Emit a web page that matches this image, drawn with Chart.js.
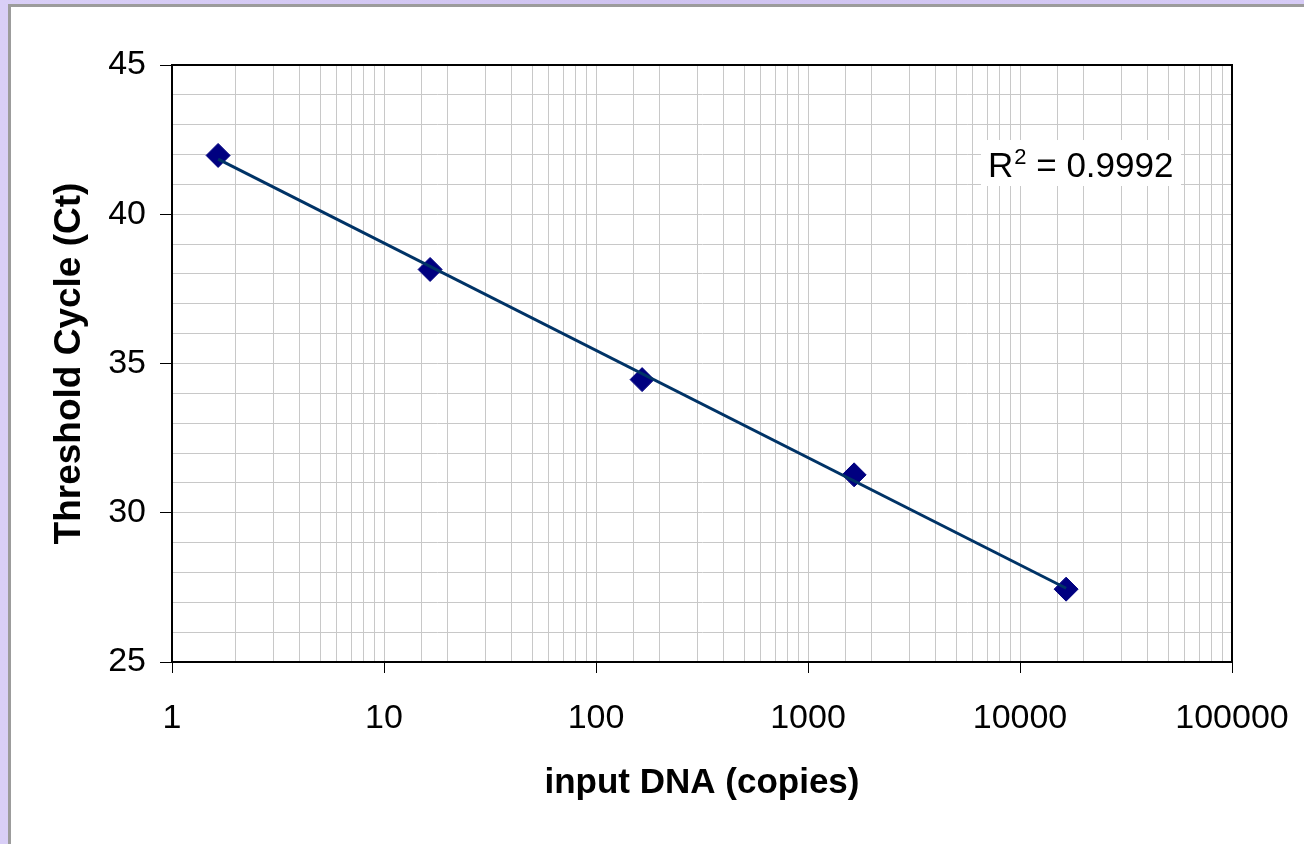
<!DOCTYPE html>
<html>
<head>
<meta charset="utf-8">
<script src="https://cdn.jsdelivr.net/npm/chart.js@4.4.1/dist/chart.umd.min.js"></script>
<style>
  html, body { margin: 0; padding: 0; }
  body { width: 1304px; height: 844px; overflow: hidden; position: relative;
         background: linear-gradient(90deg, #d9cff7, #cfc3f0 50%, #d6cbf6); }
  #frame { position: absolute; left: 8px; top: 4px; width: 1400px; height: 900px;
           background: #fff; border: 3px solid #9c9c9c; }
  #curve { position: absolute; left: 0; top: 0; }
</style>
</head>
<body>
<div id="frame"></div>
<canvas id="curve" width="1304" height="844"></canvas>
<script>
// standard curve: input copies vs threshold cycle
var copies = [1.65, 16.5, 165, 1650, 16500];
var ctValues = [41.97, 38.15, 34.46, 31.27, 27.44];
var r2Label = '0.9992';

// least squares fit of Ct against log10(copies), like the Excel log trendline
var lx = copies.map(function (c) { return Math.log10(c); });
var mx = lx.reduce(function (a, b) { return a + b; }, 0) / lx.length;
var my = ctValues.reduce(function (a, b) { return a + b; }, 0) / ctValues.length;
var sxy = 0, sxx = 0;
for (var i = 0; i < lx.length; i++) {
    sxy += (lx[i] - mx) * (ctValues[i] - my);
    sxx += (lx[i] - mx) * (lx[i] - mx);
}
var slope = sxy / sxx;
var icpt = my - slope * mx;
var fit = function (c) { return icpt + slope * Math.log10(c); };
var trendPts = [copies[0], copies[copies.length - 1]].map(function (c) { return {x: c, y: fit(c)}; });

var isDecade = function (v) { return Math.abs(Math.log10(v) - Math.round(Math.log10(v))) < 1e-9; };
var FONT = 'Arial, "Liberation Sans", sans-serif';

// box border on top/right + R^2 label
const extras = {
    id: 'extras',
    afterDatasetsDraw(chart) {
        const a = chart.chartArea, c = chart.ctx;
        c.save();
        c.strokeStyle = '#000';
        c.lineWidth = 2;
        c.beginPath();
        c.moveTo(a.left, a.top); c.lineTo(a.right, a.top); c.lineTo(a.right, a.bottom);
        c.stroke();

        c.fillStyle = '#fff';
        c.fillRect(981, 140, 200, 46);
        c.fillStyle = '#000';
        c.textBaseline = 'alphabetic';
        c.font = '35px ' + FONT;
        var x = 988, y = 177;
        c.fillText('R', x, y);
        x += c.measureText('R').width + 1;
        c.font = '22px ' + FONT;
        c.fillText('2', x, y - 13);
        x += c.measureText('2').width;
        c.font = '35px ' + FONT;
        c.fillText(' = ' + r2Label, x, y);
        c.restore();
    }
};

const ctx = document.getElementById('curve').getContext('2d');

const data = {
    datasets: [{
        type: 'line',
        label: 'trend',
        data: trendPts,
        borderColor: '#003366',
        borderWidth: 3,
        pointRadius: 0,
        fill: false
    }, {
        type: 'scatter',
        label: 'Ct',
        data: copies.map(function (c, k) { return {x: c, y: ctValues[k]}; }),
        pointStyle: 'rectRot',
        pointRadius: 12,
        backgroundColor: '#000080',
        borderColor: '#000080',
        borderWidth: 1
    }]
};

const config = {
    type: 'scatter',
    data: data,
    options: {
        responsive: false,
        animation: false,
        layout: { padding: { top: 65, right: 72, left: 0, bottom: 0 } },
        plugins: {
            legend: { display: false },
            tooltip: { enabled: false }
        },
        scales: {
            x: {
                type: 'logarithmic',
                min: 1,
                max: 100000,
                afterFit: function (s) { s.height = 182; s.paddingRight = 0; s.paddingLeft = 0; },
                border: { color: '#000', width: 2 },
                grid: {
                    color: '#c8c8c8',
                    lineWidth: 1,
                    tickLength: 11,
                    tickColor: function (c) { return isDecade(c.tick.value) ? '#000' : 'rgba(0,0,0,0)'; }
                },
                ticks: {
                    autoSkip: false,
                    maxRotation: 0,
                    padding: 25,
                    color: '#000',
                    font: { family: FONT, size: 34 },
                    callback: function (v) { return isDecade(v) ? String(Math.round(v)) : ''; }
                },
                title: {
                    display: true,
                    text: 'input DNA (copies)',
                    color: '#000',
                    font: { family: FONT, size: 35, weight: 'bold' },
                    padding: { top: 0, bottom: 40 }
                }
            },
            y: {
                min: 25,
                max: 45,
                afterFit: function (s) { s.width = 172; },
                border: { color: '#000', width: 2 },
                grid: {
                    color: '#c8c8c8',
                    lineWidth: 1,
                    tickLength: 12,
                    tickColor: function (c) { return c.tick.value % 5 === 0 ? '#000' : 'rgba(0,0,0,0)'; }
                },
                ticks: {
                    stepSize: 1,
                    autoSkip: false,
                    padding: 14,
                    color: '#000',
                    font: { family: FONT, size: 34 },
                    callback: function (v) { return v % 5 === 0 ? v : ''; }
                },
                title: {
                    display: true,
                    text: 'Threshold Cycle (Ct)',
                    color: '#000',
                    font: { family: FONT, size: 37, weight: 'bold' },
                    padding: { top: 48, bottom: 0 }
                }
            }
        }
    },
    plugins: [extras]
};

const curveChart = new Chart(ctx, config);
</script>
</body>
</html>
